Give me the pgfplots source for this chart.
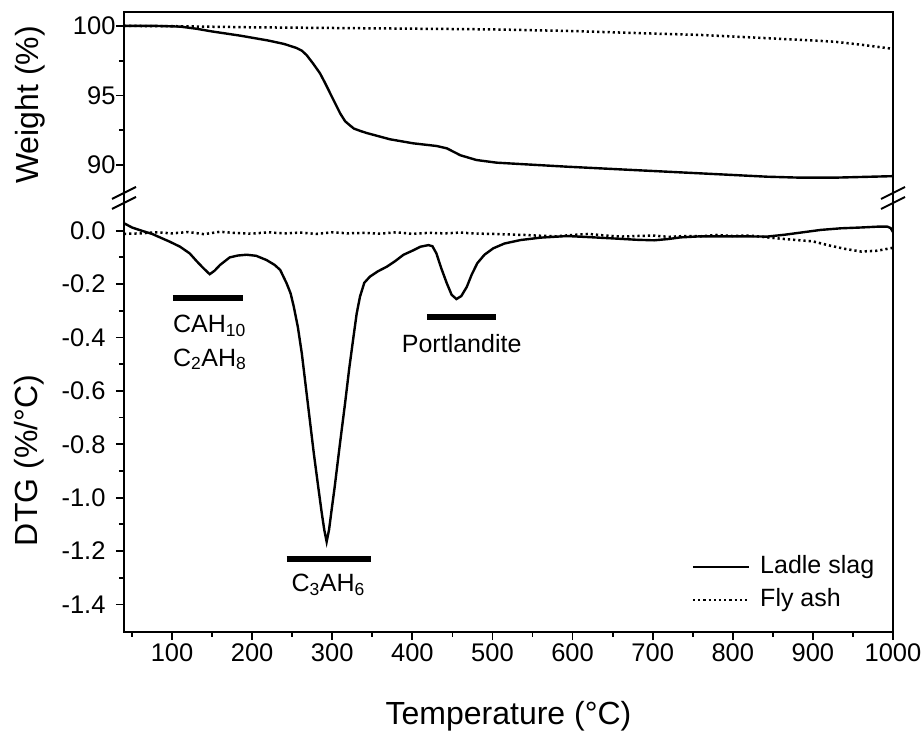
\documentclass[border=0pt]{standalone}
\usepackage{pgfplots}
\usepackage{pgfplotstable}
\pgfplotsset{compat=1.18}
\usepackage{fontspec}
\setmainfont{Liberation Sans}

% TGA weight curves
\pgfplotstableread{
T W
40 100.0
80 100.0
110 99.95
130 99.8
150 99.6
185 99.3
220 98.95
240 98.7
255 98.42
262 98.22
268 97.9
276 97.3
284.6 96.6
291 95.9
297 95.2
303.5 94.45
310 93.7
316 93.15
321 92.9
327 92.62
335 92.45
343 92.3
372 91.85
401 91.56
430 91.37
443 91.2
460 90.7
480 90.36
505 90.17
535 90.07
593 89.88
676 89.64
760 89.4
843 89.16
885 89.09
926 89.09
1000 89.2
}\slagweight

\pgfplotstableread{
T W
40 100.0
100 99.98
200 99.9
300 99.85
400 99.8
500 99.75
600 99.63
700 99.45
760 99.35
850 99.1
926 98.87
960 98.65
1000 98.35
}\flyweight

% DTG curves
\pgfplotstableread{
T D
40 0.028
50 0.012
62 0.0
75 -0.012
97 -0.041
110 -0.060
122 -0.085
131 -0.115
139 -0.140
147 -0.163
153 -0.150
160 -0.128
172 -0.100
182 -0.093
193 -0.090
205 -0.094
218 -0.110
228 -0.128
235 -0.147
243 -0.197
248 -0.235
252 -0.285
257 -0.36
262 -0.46
267 -0.585
272 -0.71
277 -0.835
282.5 -0.96
287 -1.06
290 -1.12
293 -1.165
296 -1.12
299 -1.05
303 -0.96
309.5 -0.80
316 -0.646
321 -0.52
326.5 -0.397
330.5 -0.31
334.6 -0.247
340 -0.195
347 -0.172
357 -0.152
368 -0.135
378 -0.115
389 -0.090
400 -0.075
410 -0.060
420 -0.054
425 -0.058
430 -0.085
436 -0.140
443 -0.197
449 -0.240
455 -0.256
461 -0.245
468 -0.210
474 -0.165
481 -0.122
490 -0.090
501 -0.066
515 -0.048
535 -0.035
560 -0.026
593 -0.020
620 -0.024
651 -0.029
680 -0.034
702 -0.036
720 -0.031
735 -0.025
760 -0.021
800 -0.021
843 -0.022
865 -0.015
885 -0.007
910 0.003
935 0.009
960 0.012
980 0.015
993 0.015
997 0.010
1000 -0.005
}\slagdtg

\pgfplotstableread{
T D
40 -0.012
60 -0.010
80 -0.006
100 -0.010
120 -0.005
140 -0.013
160 -0.004
180 -0.009
200 -0.011
220 -0.006
240 -0.010
260 -0.007
280 -0.012
300 -0.006
320 -0.010
340 -0.008
360 -0.011
380 -0.006
400 -0.012
420 -0.008
440 -0.010
460 -0.007
480 -0.011
500 -0.012
520 -0.014
540 -0.016
560 -0.019
580 -0.021
600 -0.016
620 -0.012
640 -0.018
660 -0.022
680 -0.020
700 -0.018
720 -0.023
740 -0.020
760 -0.021
780 -0.016
800 -0.020
820 -0.018
840 -0.024
860 -0.030
880 -0.035
900 -0.040
920 -0.055
940 -0.068
960 -0.078
980 -0.075
1000 -0.064
}\flydtg

\pgfplotsset{
  tga/.style={
    width=769pt, scale only axis,
    xmin=40, xmax=1000,
    axis line style={draw=none},
    clip mode=individual,
    tick align=outside,
    major tick length=8pt, minor tick length=5pt,
    every tick/.style={black, line width=1.8pt},
    tick label style={font=\fontsize{25.5}{30}\selectfont},
    label style={font=\fontsize{32}{38}\selectfont},
    /pgf/number format/assume math mode=true,
    /pgf/number format/1000 sep={},
    ytick pos=left,
  },
}
\tikzset{
  slag/.style={black, line width=2.4pt},
  fly/.style={black, line width=2.5pt, dash pattern=on 2.2pt off 3pt},
  brk/.style={line width=2pt, black},
  ann/.style={font=\fontsize{25}{30}\selectfont, inner sep=0pt},
}

\begin{document}
\begin{tikzpicture}
\path[use as bounding box] (-124pt,-101pt) rectangle (800pt,632pt);

% weight panel
\begin{axis}[tga, at={(0,434pt)}, height=186pt,
  ymin=87.63, ymax=101.0,
  xtick=\empty,
  ytick={90,95,100}, minor ytick={92.5,97.5},
  yticklabel style={xshift=3pt},
  ylabel={Weight (\%)},
  ylabel style={at={([xshift=-94pt]rel axis cs:0,0.5)}, anchor=center},
]
\addplot[slag] table {\slagweight};
\addplot[fly] table {\flyweight};
\draw[line width=2pt] (rel axis cs:0,0) -- (rel axis cs:0,1) -- (rel axis cs:1,1) -- (rel axis cs:1,0);
\end{axis}

% DTG panel
\begin{axis}[tga, at={(0,0)}, height=434pt,
  ymin=-1.503, ymax=0.1225,
  xtick={100,200,...,1000}, minor xtick={50,150,...,950},
  xtick pos=bottom,
  ytick={-1.4,-1.2,-1.0,-0.8,-0.6,-0.4,-0.2,0},
  yticklabels={-1.4,-1.2,-1.0,-0.8,-0.6,-0.4,-0.2,0.0},
  minor ytick={-1.3,-1.1,-0.9,-0.7,-0.5,-0.3,-0.1},
  yticklabel style={xshift=-7pt},
  xlabel={Temperature (°C)},
  xlabel style={at={([yshift=-93pt]rel axis cs:0.5,0)}, anchor=base},
  ylabel={DTG (\%/°C)},
  ylabel style={at={([xshift=-95pt]rel axis cs:0,0.395)}, anchor=center},
  legend style={draw=none, fill=none, inner sep=0pt, column sep=10pt, row sep=10pt,
    at={(rel axis cs:0.738,0.112)}, anchor=west,
    nodes={inner sep=0pt, text height=18pt, text depth=5pt},
    font=\fontsize{25}{30}\selectfont},
  legend cell align=left,
  legend image code/.code={\draw[#1] (0pt,0pt) -- (56pt,0pt);},
]
\addplot[slag] table {\slagdtg};
\addlegendentry{Ladle slag}
\addplot[fly] table {\flydtg};
\addlegendentry{Fly ash}

\draw[line width=2pt] (rel axis cs:0,1) -- (rel axis cs:0,0) -- (rel axis cs:1,0) -- (rel axis cs:1,1);

% axis break marks
\draw[brk] ([shift={(-12pt,-1pt)}]rel axis cs:0,1) -- ++(24pt,12pt);
\draw[brk] ([shift={(-12pt,-11pt)}]rel axis cs:0,1) -- ++(24pt,12pt);
\draw[brk] ([shift={(-12pt,-1pt)}]rel axis cs:1,1) -- ++(24pt,12pt);
\draw[brk] ([shift={(-12pt,-11pt)}]rel axis cs:1,1) -- ++(24pt,12pt);

% phase annotations
\draw[line width=6pt] (axis cs:101,-0.253) -- (axis cs:188.5,-0.253);
\node[ann, anchor=base west] at (axis cs:101,-0.383) {CAH\textsubscript{10}};
\node[ann, anchor=base west] at (axis cs:101,-0.507) {C\textsubscript{2}AH\textsubscript{8}};
\draw[line width=6pt] (axis cs:243,-1.231) -- (axis cs:348,-1.231);
\node[ann, anchor=base west] at (axis cs:249,-1.352) {C\textsubscript{3}AH\textsubscript{6}};
\draw[line width=6pt] (axis cs:418,-0.322) -- (axis cs:505,-0.322);
\node[ann, anchor=base west] at (axis cs:386.7,-0.458) {Portlandite};
\end{axis}
\end{tikzpicture}
\end{document}
